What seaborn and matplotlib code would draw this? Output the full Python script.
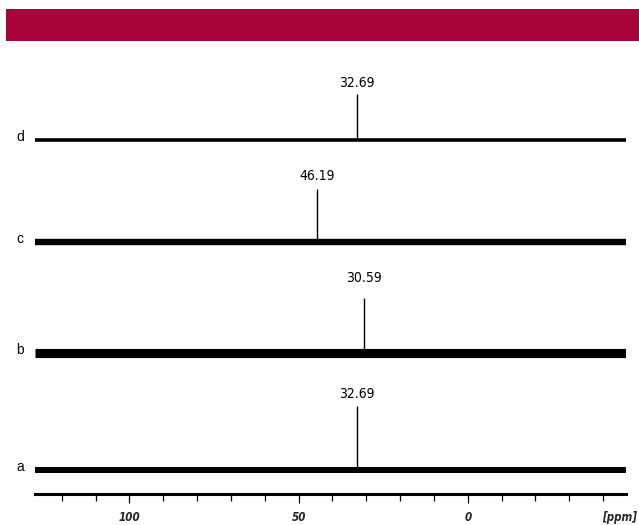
import matplotlib
matplotlib.use("Agg")
import matplotlib.pyplot as plt
from matplotlib.patches import Rectangle
from matplotlib import font_manager
import numpy as np
import pandas as pd
import seaborn as sns

# ---- data ----
spectra = ["d", "c", "b", "a"]
peak_ppm = [32.69, 44.6, 30.59, 32.69]          # drawn peak positions
peak_labels = ["32.69", "46.19", "30.59", "32.69"]
peak_height = [46, 53, 55, 64]                  # peak heights above baseline
major_ticks = [100, 50, 0]
minor_ticks = [120, 110, 90, 80, 70, 60, 40, 30, 20, 10, -10, -20, -30, -40]
ppm_range = [127.9, -46.6]

# ---- layout / style ----
offsets = [354, 252, 141, 24]
noise_lw = [2.6, 4.6, 6.6, 4.3]
label_pad = [4, 6, 13, 5]

sns.set_theme(style="white")
plt.rcParams["font.family"] = ["DejaVu Sans"]

cond = font_manager.FontProperties(family="DejaVu Sans", stretch="condensed", size=10)
cond_it = font_manager.FontProperties(family="DejaVu Sans", stretch="condensed",
                                      style="oblique", weight="bold", size=8.3)

W, H = 639, 525
fig = plt.figure(figsize=(W / 100, H / 100), dpi=100)
fig.patch.set_facecolor("white")

# red header band
fig.patches.append(Rectangle((6 / W, 1 - 41 / H), 1 - 6 / W, 32 / H,
                             transform=fig.transFigure, facecolor="#A8043A",
                             edgecolor="none", zorder=0))

ax = fig.add_axes([35 / W, 31 / H, 590.5 / W, 434 / H])
ax.set_facecolor("white")

for name, pos, lab, h, off, lw, pad in zip(spectra, peak_ppm, peak_labels,
                                           peak_height, offsets, noise_lw, label_pad):
    df = pd.DataFrame({"ppm": ppm_range, "y": [off, off]})
    sns.lineplot(data=df, x="ppm", y="y", color="black", linewidth=lw,
                 ax=ax, legend=False, solid_capstyle="butt")
    ax.vlines(pos, off, off + h, color="black", linewidth=1.0)
    ax.annotate(lab, (pos, off + h), xytext=(0, pad), textcoords="offset pixels",
                ha="center", va="bottom", color="black", fontproperties=cond)
    ax.annotate(name, (0, off), xycoords=("figure pixels", "data"),
                xytext=(20, 3), textcoords="offset pixels",
                ha="center", va="center", fontsize=10, color="black",
                family=["Liberation Sans", "DejaVu Sans"], annotation_clip=False)

ax.set_xlim(ppm_range[0], ppm_range[1])
ax.set_ylim(0, 434)
ax.set_xlabel("")
ax.set_ylabel("")
ax.set_yticks([])
for side in ["top", "right", "left"]:
    ax.spines[side].set_visible(False)
ax.spines["bottom"].set_visible(True)
ax.spines["bottom"].set_color("black")
ax.spines["bottom"].set_linewidth(2.2)

ax.set_xticks(major_ticks)
ax.set_xticklabels([str(t) for t in major_ticks])
for t in ax.get_xticklabels():
    t.set_fontproperties(cond_it)
ax.set_xticks(minor_ticks, minor=True)
ax.tick_params(axis="x", which="major", direction="out", length=6.5, width=0.9,
               color="black", bottom=True, pad=6)
ax.tick_params(axis="x", which="minor", direction="out", length=4.8, width=0.9,
               color="black", bottom=True)

fig.text(637 / W, 1 - 518 / H, "[ppm]", ha="right", va="center",
         fontproperties=cond_it)

fig.savefig("out.png", dpi=100, facecolor="white")
